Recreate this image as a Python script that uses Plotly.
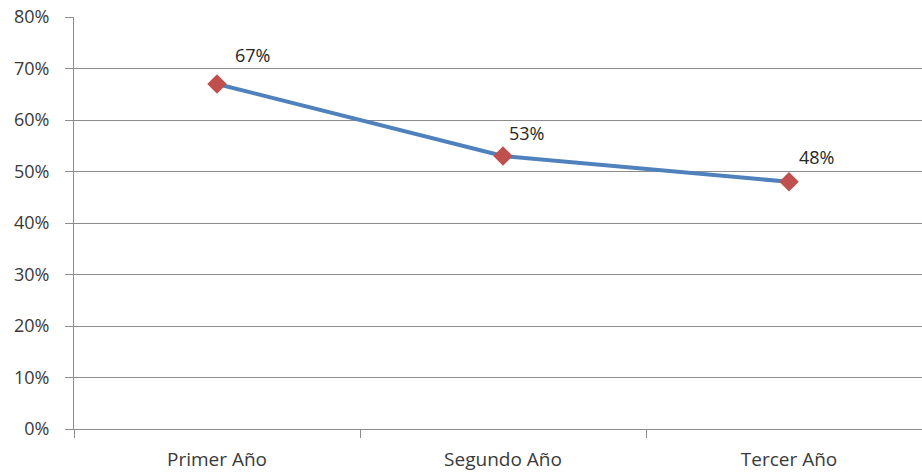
import plotly.graph_objects as go

# Share per academic year
years = ["Primer Año", "Segundo Año", "Tercer Año"]
shares = [0.67, 0.53, 0.48]
y_ticks = [0, 0.1, 0.2, 0.3, 0.4, 0.5, 0.6, 0.7, 0.8]

# pixel nudges for the value labels
label_dx = [35, 23, 27]
label_dy = [29, 23, 25]

axis_grey = "#8c8c8c"
text_col = "#3a3a3a"
font_fam = "Open Sans, Noto Sans, sans-serif"

fig = go.Figure()
fig.add_trace(go.Scatter(
    x=years, y=shares, mode="lines+markers",
    line=dict(color="#4F81BD", width=4),
    marker=dict(symbol="diamond", size=15, color="#C0504D",
                line=dict(width=0)),
    hoverinfo="skip", showlegend=False,
))

for x, v, dx, dy in zip(years, shares, label_dx, label_dy):
    fig.add_annotation(x=x, y=v, text=f"{round(v * 100)}%", showarrow=False,
                       xshift=dx, yshift=dy,
                       font=dict(family=font_fam, size=18, color="#262626"))

fig.update_layout(
    width=922, height=474,
    margin=dict(l=74, r=0, t=17, b=45),
    paper_bgcolor="white", plot_bgcolor="white",
    font=dict(family=font_fam, size=18, color=text_col),
)
fig.update_xaxes(
    type="category", range=[-0.5, 2.465],
    showgrid=False, showline=True, linecolor=axis_grey, linewidth=1,
    ticks="outside", tickson="boundaries", ticklen=8, tickcolor=axis_grey,
    ticklabelstandoff=13,
    tickfont=dict(size=19, color=text_col),
)
fig.update_yaxes(
    range=[0, 0.8], tickvals=y_ticks, tickformat=".0%",
    showgrid=True, gridcolor=axis_grey, gridwidth=1,
    showline=True, linecolor=axis_grey, linewidth=1,
    ticks="outside", ticklen=8, tickcolor=axis_grey,
    ticklabelstandoff=12,
    zeroline=False,
    tickfont=dict(size=18, color=text_col),
)

fig.write_html("out.html")
